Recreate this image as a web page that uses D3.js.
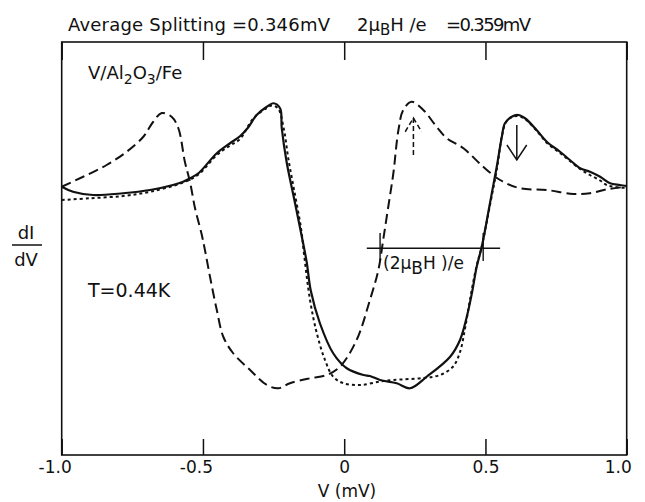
<!DOCTYPE html>
<html>
<head>
<meta charset="utf-8">
<script src="https://cdn.jsdelivr.net/npm/d3@7"></script>
<style>
  html, body { margin: 0; padding: 0; background: #fff; }
  svg { display: block; }
  text { font-family: "DejaVu Sans", "Liberation Sans", sans-serif; fill: #111; }
</style>
</head>
<body>
<div id="chart"></div>
<script>
// ---- Data (V in mV, dI/dV in arbitrary units) ----
const xTicks = [-1.0, -0.5, 0, 0.5, 1.0];
const xTickLabels = ["-1.0", "-0.5", "0", "0.5", "1.0"];

// solid curve (field applied, measured)
const solidV =   [-1.000,-0.960,-0.889,-0.783,-0.687,-0.606,-0.570,-0.546,-0.516,-0.451,-0.404,-0.369,-0.340,-0.310,-0.274,-0.251,-0.227,-0.221,-0.204,-0.180,-0.156,-0.133,-0.118,-0.086,-0.039,0.009,0.068,0.091,0.127,0.186,0.233,0.292,0.375,0.410,0.434,0.452,0.469,0.487,0.516,0.540,0.558,0.569,0.593,0.616,0.640,0.681,0.717,0.764,0.799,0.835,0.870,0.906,0.941,0.976,1.000];
const solidG =   [1.073,1.053,1.040,1.047,1.060,1.080,1.093,1.107,1.127,1.207,1.247,1.275,1.310,1.360,1.393,1.407,1.387,1.307,1.173,1.040,0.907,0.773,0.656,0.527,0.407,0.347,0.320,0.316,0.300,0.287,0.267,0.313,0.393,0.460,0.553,0.647,0.753,0.833,1.007,1.153,1.273,1.327,1.353,1.360,1.347,1.300,1.253,1.213,1.180,1.147,1.133,1.113,1.087,1.080,1.076];

// short-dashed curve (calculated)
const dottedV =  [-1.000,-0.900,-0.783,-0.687,-0.570,-0.516,-0.451,-0.404,-0.369,-0.322,-0.274,-0.256,-0.234,-0.215,-0.197,-0.174,-0.153,-0.141,-0.121,-0.097,-0.068,-0.039,-0.003,0.056,0.127,0.173,0.279,0.339,0.385,0.410,0.428,0.445,0.467,0.488,0.516,0.541,0.559,0.573,0.594,0.616,0.640,0.682,0.718,0.764,0.799,0.835,0.870,0.906,0.929,0.959,1.000];
const dottedG =  [1.020,1.027,1.036,1.053,1.090,1.122,1.200,1.238,1.264,1.346,1.388,1.398,1.386,1.312,1.180,1.040,0.908,0.792,0.620,0.487,0.380,0.313,0.287,0.280,0.294,0.300,0.308,0.320,0.353,0.412,0.508,0.620,0.748,0.840,1.000,1.148,1.280,1.332,1.352,1.356,1.344,1.296,1.248,1.208,1.176,1.144,1.120,1.098,1.080,1.072,1.068];

// long-dashed curve (mirrored)
const dashedV =  [-1.000,-0.924,-0.841,-0.770,-0.711,-0.676,-0.646,-0.611,-0.587,-0.564,-0.546,-0.528,-0.504,-0.493,-0.475,-0.451,-0.428,-0.393,-0.333,-0.274,-0.233,-0.192,-0.121,-0.062,-0.015,0.044,0.091,0.121,0.138,0.156,0.174,0.192,0.209,0.239,0.280,0.327,0.363,0.422,0.492,0.552,0.622,0.717,0.811,0.870,0.929,1.000];
const dashedG =  [1.073,1.113,1.160,1.213,1.273,1.333,1.368,1.353,1.307,1.173,1.093,0.987,0.880,0.820,0.713,0.580,0.473,0.407,0.340,0.280,0.267,0.287,0.307,0.320,0.353,0.460,0.620,0.740,0.860,0.993,1.127,1.300,1.380,1.413,1.380,1.313,1.267,1.227,1.153,1.100,1.067,1.060,1.044,1.047,1.063,1.073];

// annotations (data units)
const splitMarks = [0.127, 0.492];          // V positions of the 2μBH/e marker ticks
const splitLine = {x0: 0.080, x1: 0.552, g: 0.827, g0: 0.776, g1: 0.888};
const dashArrow = {v: 0.245, from: 1.200, to: 1.348, wingG: 1.293, wingDV: 0.029};
const solidArrow = {v: 0.611, from: 1.320, to: 1.180, wingG: 1.240, wingDV: 0.035};

// ---- Layout ----
const W = 645, H = 502;
const L = 61.7, R = 626.7, T = 42, B = 455;

const svg = d3.select("#chart").append("svg").attr("width", W).attr("height", H);

const x = d3.scaleLinear().domain([-1, 1]).range([L, R]);
const y = d3.scaleLinear().domain([0, 1.652]).range([B, T]);

// frame
svg.append("rect").attr("x", L).attr("y", T).attr("width", R - L).attr("height", B - T)
  .attr("fill", "none").attr("stroke", "#111").attr("stroke-width", 1.6);

// bottom axis (ticks inward)
const xAxis = d3.axisBottom(x).tickValues(xTicks).tickSize(-16).tickPadding(6)
  .tickFormat((d, i) => xTickLabels[i]);
const gx = svg.append("g").attr("transform", `translate(0,${B})`).call(xAxis);
gx.select(".domain").remove();
gx.selectAll(".tick line").attr("stroke", "#111").attr("stroke-width", 1.5);
gx.selectAll(".tick text").attr("font-size", 17).attr("fill", "#111")
  .attr("font-family", "DejaVu Sans, sans-serif")
  .attr("dx", (d) => d < 0 ? -7 : (d === 1 ? -9 : 0));

// top axis (ticks inward)
const xTop = d3.axisTop(x).tickValues(xTicks).tickSize(-18).tickFormat("");
const gt = svg.append("g").attr("transform", `translate(0,${T})`).call(xTop);
gt.select(".domain").remove();
gt.selectAll(".tick line").attr("stroke", "#111").attr("stroke-width", 1.5);

// curves
const line = d3.line().x(d => x(d[0])).y(d => y(d[1])).curve(d3.curveCatmullRom.alpha(0.5));
const zip = (a, b) => a.map((v, i) => [v, b[i]]);

svg.append("path").datum(zip(dashedV, dashedG)).attr("d", line)
  .attr("fill", "none").attr("stroke", "#111").attr("stroke-width", 2)
  .attr("stroke-dasharray", "10,5");
svg.append("path").datum(zip(dottedV, dottedG)).attr("d", line)
  .attr("fill", "none").attr("stroke", "#111").attr("stroke-width", 2)
  .attr("stroke-dasharray", "3,3");
svg.append("path").datum(zip(solidV, solidG)).attr("d", line)
  .attr("fill", "none").attr("stroke", "#111").attr("stroke-width", 2.2);

// splitting marker
svg.append("line").attr("x1", x(splitLine.x0)).attr("x2", x(splitLine.x1))
  .attr("y1", y(splitLine.g)).attr("y2", y(splitLine.g))
  .attr("stroke", "#111").attr("stroke-width", 1.4);
svg.selectAll(".smark").data(splitMarks).enter().append("line")
  .attr("x1", d => x(d)).attr("x2", d => x(d))
  .attr("y1", y(splitLine.g0)).attr("y2", y(splitLine.g1))
  .attr("stroke", "#111").attr("stroke-width", 1.4);

// arrows
function arrow(a, dash) {
  const g = svg.append("g").attr("fill", "none").attr("stroke", "#111").attr("stroke-width", 1.5);
  if (dash) g.attr("stroke-dasharray", dash);
  g.append("line").attr("x1", x(a.v)).attr("x2", x(a.v)).attr("y1", y(a.from)).attr("y2", y(a.to));
  g.append("path").attr("d", d3.line()([
    [x(a.v - a.wingDV), y(a.wingG)], [x(a.v), y(a.to)], [x(a.v + a.wingDV), y(a.wingG)]
  ]));
}
arrow(dashArrow, "5,3");
arrow(solidArrow, null);

// texts
const title = svg.append("g");
title.append("text").attr("x", 68).attr("y", 31).attr("font-size", 18)
  .attr("textLength", 262).text("Average Splitting =0.346mV");
const t2 = title.append("text").attr("x", 357).attr("y", 31).attr("font-size", 18);
t2.append("tspan").text("2μ");
t2.append("tspan").attr("dy", 4).attr("font-size", 15).text("B");
t2.append("tspan").attr("dy", -4).text("H /e");
title.append("text").attr("x", 446).attr("y", 31).attr("font-size", 18)
  .attr("textLength", 85).text("=0.359mV");

const mat = svg.append("text").attr("x", 88).attr("y", 79).attr("font-size", 18);
mat.append("tspan").text("V/Al");
mat.append("tspan").attr("dy", 5).attr("font-size", 14).text("2");
mat.append("tspan").attr("dy", -5).text("O");
mat.append("tspan").attr("dy", 5).attr("font-size", 14).text("3");
mat.append("tspan").attr("dy", -5).text("/Fe");

svg.append("text").attr("x", 88).attr("y", 297).attr("font-size", 19).text("T=0.44K");

svg.append("text").attr("x", 26).attr("y", 239).attr("font-size", 18).attr("text-anchor", "middle").text("dI");
svg.append("line").attr("x1", 12).attr("x2", 42).attr("y1", 245).attr("y2", 245)
  .attr("stroke", "#111").attr("stroke-width", 1.5);
svg.append("text").attr("x", 26).attr("y", 266).attr("font-size", 18).attr("text-anchor", "middle").text("dV");

const ann = svg.append("text").attr("x", 383).attr("y", 269).attr("font-size", 17);
ann.append("tspan").text("(2μ");
ann.append("tspan").attr("dy", 5).text("B");
ann.append("tspan").attr("dy", -5).text("H )/e");

svg.append("text").attr("x", 347).attr("y", 497).attr("font-size", 17).attr("text-anchor", "middle").text("V (mV)");
</script>
</body>
</html>
